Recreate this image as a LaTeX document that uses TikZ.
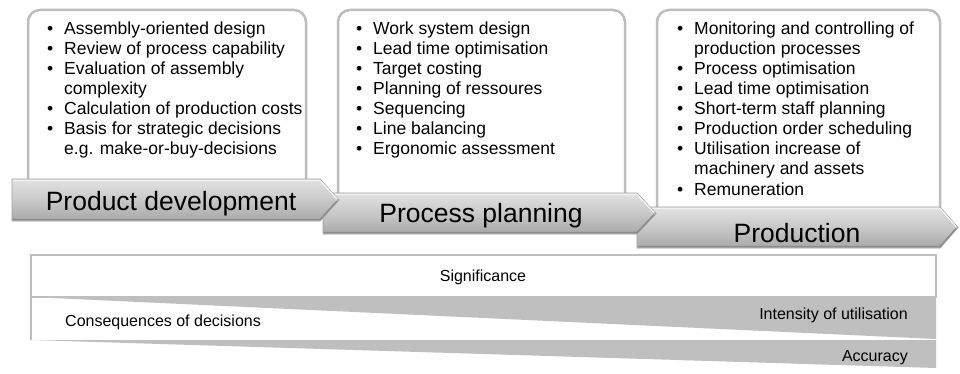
\documentclass[tikz,border=0pt]{standalone}
\usepackage{fontspec}
\setmainfont{Liberation Sans}
\definecolor{frame}{HTML}{BFBFBF}
\definecolor{boxline}{HTML}{BDBDBD}
\definecolor{arrtop}{HTML}{E2E2E2}
\definecolor{arrmid}{HTML}{C8C8C8}
\definecolor{arrbot}{HTML}{A8A8A8}
\definecolor{arredge}{HTML}{A0A0A0}
\definecolor{bevellight}{HTML}{F2F2F2}
\definecolor{beveldark}{HTML}{8C8C8C}
\newcommand{\bl}{\llap{\textbullet\hspace{11pt}}}
\begin{document}
\begin{tikzpicture}[x=1pt,y=-1pt,
  listbox/.style={draw=boxline,line width=2.5pt,rounded corners=12pt,fill=white},
  arrowshape/.style={draw=arredge,line width=0.8pt,top color=arrtop,bottom color=arrbot,middle color=arrmid},
  hilite/.style={draw=bevellight,line width=1.4pt},
  shade/.style={draw=beveldark,line width=1.4pt},
  item/.style={anchor=base west,inner sep=0pt,font=\fontsize{17.5}{20}\selectfont},
  phase/.style={anchor=base,inner sep=0pt,font=\fontsize{26.5}{30}\selectfont},
  barlabel/.style={inner sep=0pt,font=\fontsize{16}{19}\selectfont},
  wedge/.style={fill=frame,draw=none}]
\useasboundingbox (0,0) rectangle (960,374);
\fill[white] (0,0) rectangle (960,374);

% boxes
\draw[listbox] (28,10) rectangle (306,215);
\draw[listbox] (338,10) rectangle (625,225);
\draw[listbox] (657,10) rectangle (940,235);

% box 1 text
\node[item] (a1) at (64,35) {\bl Assembly-oriented design};
\node[item] (a2) at (64,55) {\bl Review of process capability};
\node[item] (a3) at (64,75) {\bl Evaluation of assembly};
\node[item] (a4) at (64,95) {complexity};
\node[item] (a5) at (64,115) {\bl Calculation of production costs};
\node[item] (a6) at (64,135) {\bl Basis for strategic decisions};
\node[item] (a7) at (64,155) {e.g. make-or-buy-decisions};

% box 2 text
\node[item] (b1) at (373,35) {\bl Work system design};
\node[item] (b2) at (373,55) {\bl Lead time optimisation};
\node[item] (b3) at (373,75) {\bl Target costing};
\node[item] (b4) at (373,95) {\bl Planning of ressoures};
\node[item] (b5) at (373,115) {\bl Sequencing};
\node[item] (b6) at (373,135) {\bl Line balancing};
\node[item] (b7) at (373,155) {\bl Ergonomic assessment};

% box 3 text
\node[item] (c1) at (694,35) {\bl Monitoring and controlling of};
\node[item] (c2) at (694,55) {production processes};
\node[item] (c3) at (694,75) {\bl Process optimisation};
\node[item] (c4) at (694,95) {\bl Lead time optimisation};
\node[item] (c5) at (694,115) {\bl Short-term staff planning};
\node[item] (c6) at (694,135) {\bl Production order scheduling};
\node[item] (c7) at (694,155) {\bl Utilisation increase of};
\node[item] (c8) at (694,175) {machinery and assets};
\node[item] (c9) at (694,195) {\bl Remuneration};

% arrows (back to front)
\path[arrowshape] (637,207) -- (940,207) -- (958,227.5) -- (940,248) -- (637,248) -- cycle;
\draw[hilite] (638,208.5) -- (940,208.5) -- (956,226.5);
\draw[shade] (638,246.5) -- (940,246.5) -- (956,228.5);
\path[arrowshape] (323,193) -- (637,193) -- (656,213.5) -- (637,234) -- (323,234) -- cycle;
\draw[hilite] (324,194.5) -- (637,194.5) -- (654,212.5);
\draw[shade] (324,232.5) -- (637,232.5) -- (654,214.5);
\path[arrowshape] (12,179) -- (320,179) -- (339,200) -- (320,221) -- (12,221) -- cycle;
\draw[hilite] (13,180.5) -- (320,180.5) -- (337,199);
\draw[shade] (13,219.5) -- (320,219.5) -- (337,201);

\node[phase] (p1) at (171,210) {Product development};
\node[phase] (p2) at (481,222) {Process planning};
\node[phase] (p3) at (797,242) {Production};

% bottom bars
\fill[wedge] (31,297) -- (936,297) -- (936,339) -- cycle;
\fill[wedge] (31,340) -- (936,340) -- (936,368) -- cycle;
\draw[frame,line width=2.5pt,fill=white] (31,255) rectangle (936,297);
\draw[frame,line width=2.5pt] (31,255) -- (31,340);

\node[barlabel] (s) at (483,277) {Significance};
\node[barlabel,anchor=west] (cd) at (65,322) {Consequences of decisions};
\node[barlabel,anchor=east] (iu) at (908,315) {Intensity of utilisation};
\node[barlabel,anchor=east] (ac) at (908,358) {Accuracy};
\end{tikzpicture}
\end{document}
